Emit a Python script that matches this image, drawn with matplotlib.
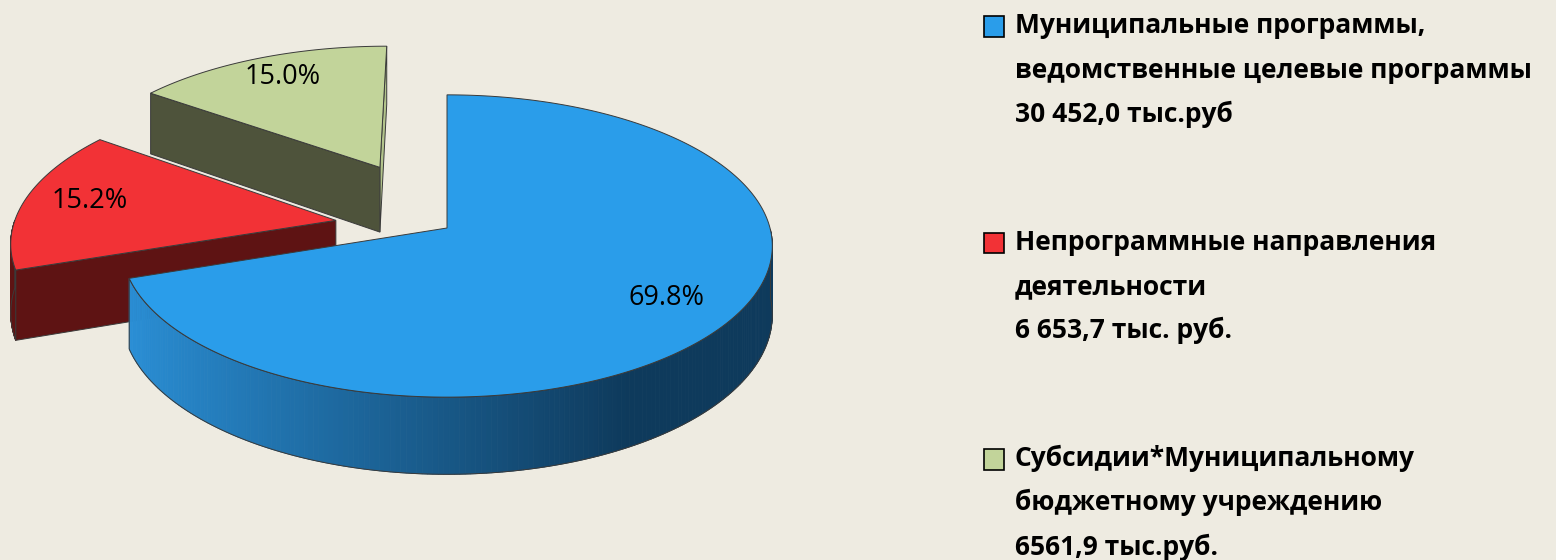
import numpy as np
import matplotlib.pyplot as plt
from matplotlib.patches import Polygon, Rectangle

# data
values = [30452.0, 6653.7, 6561.9]
pct_labels = ['69.8%', '15.2%', '15.0%']
legend_lines = [
    ['Муниципальные программы,', 'ведомственные целевые программы', '30 452,0 тыс.руб'],
    ['Непрограммные направления', 'деятельности', '6 653,7 тыс. руб.'],
    ['Субсидии*Муниципальному', 'бюджетному учреждению', '6561,9 тыс.руб.'],
]

# style
explode = [0.0, 0.35, 0.48]
top_colors = ['#2A9DEA', '#F23236', '#C2D49A']
wall_light = ['#2A8FD6', '#5E1313', '#4E533B']
wall_dark = ['#0E3A5C', '#5E1313', '#4E533B']
cut_front = ['#1F6FA8', '#5E1313', '#4E533B']
cut_side = ['#2A9DEA', '#C9363A', '#B2C38B']
bg = '#EEEBE1'
edge = '#3A3A3A'

# fake 3d projection (pixel space)
CX, CY, RX, RY, P, H = 447, 228, 323, 149, 0.119, 68


def proj(u, v, z=0.0):
    s = 1.0 / (1.0 + P * v)
    return CX + RX * u * s, CY - RY * v * s + H * z * s


fig = plt.figure(figsize=(15.56, 5.6), dpi=100, facecolor=bg)
ax = fig.add_axes([0, 0, 1, 1])
ax.set_facecolor(bg)
ax.set_xlim(0, 1556)
ax.set_ylim(560, 0)
ax.axis('off')

fr = np.array(values) / sum(values)
bounds = 90 - 360 * np.concatenate([[0], np.cumsum(fr)])

for i in [2, 1, 0]:
    lo, hi = bounds[i + 1], bounds[i]
    mid = np.radians((lo + hi) / 2)
    ou, ov = explode[i] * np.cos(mid), explode[i] * np.sin(mid)

    # cut faces
    for ang, which in [(lo, 'lo'), (hi, 'hi')]:
        a = np.radians(ang)
        if which == 'hi':
            nu, nv = -np.sin(a), np.cos(a)
        else:
            nu, nv = np.sin(a), -np.cos(a)
        vis = nv < -1e-6 or (abs(nv) <= 1e-6 and nu * (0 - ou) > 0)
        if not vis:
            continue
        pu, pv = ou + np.cos(a), ov + np.sin(a)
        pts = [proj(ou, ov), proj(pu, pv), proj(pu, pv, 1), proj(ou, ov, 1)]
        col = cut_front[i] if nv < -0.1 else cut_side[i]
        ax.add_patch(Polygon(pts, closed=True, facecolor=col, edgecolor=edge, lw=0.7, zorder=2))

    # outer wall (front half only)
    th = np.radians(np.linspace(lo, hi, 300))
    th = th[np.sin(th) < 0]
    if len(th) > 1:
        c1 = np.array(plt.matplotlib.colors.to_rgb(wall_light[i]))
        c2 = np.array(plt.matplotlib.colors.to_rgb(wall_dark[i]))
        for k in range(len(th) - 1):
            t0, t1 = th[k], th[k + 1]
            f = np.clip((np.cos((t0 + t1) / 2) + 0.95) / 1.45, 0, 1)
            col = c1 + (c2 - c1) * f
            q = [proj(ou + np.cos(t0), ov + np.sin(t0)), proj(ou + np.cos(t1), ov + np.sin(t1)),
                 proj(ou + np.cos(t1), ov + np.sin(t1), 1), proj(ou + np.cos(t0), ov + np.sin(t0), 1)]
            ax.add_patch(Polygon(q, closed=True, facecolor=col, edgecolor=col, lw=0.6, zorder=2))
        top = [proj(ou + np.cos(t), ov + np.sin(t)) for t in th]
        bot = [proj(ou + np.cos(t), ov + np.sin(t), 1) for t in th[::-1]]
        ax.add_patch(Polygon(top + bot, closed=True, facecolor='none', edgecolor=edge, lw=0.7, zorder=2))

    # top face
    th = np.radians(np.linspace(lo, hi, 300))
    pts = [proj(ou, ov)] + [proj(ou + np.cos(t), ov + np.sin(t)) for t in th]
    ax.add_patch(Polygon(pts, closed=True, facecolor=top_colors[i], edgecolor=edge, lw=0.7, zorder=3))

    lx, ly = proj(ou + 0.79 * np.cos(mid), ov + 0.79 * np.sin(mid))
    ax.text(lx, ly - 2, pct_labels[i], ha='center', va='center', fontsize=19.5,
            family='Open Sans', color='black', zorder=5)

# legend
for i, lines in enumerate(legend_lines):
    y0 = 33 + i * 216.5
    ax.add_patch(Rectangle((984, y0 - 17), 20.5, 20.5, facecolor=top_colors[i],
                           edgecolor='black', lw=1.2, zorder=4))
    for j, line in enumerate(lines):
        ax.text(1015, y0 + j * 44.5, line, ha='left', va='baseline', fontsize=19,
                family='Open Sans', fontweight='bold', color='black')

fig.savefig('out.png', dpi=100, facecolor=bg)
